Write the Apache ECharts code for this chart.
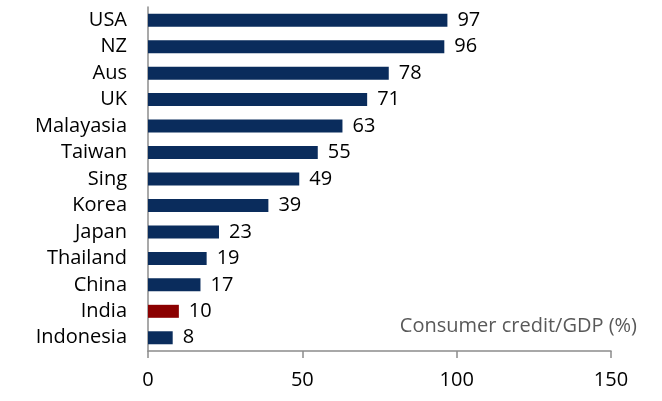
<!DOCTYPE html>
<html>
<head>
<meta charset="utf-8">
<script src="https://cdn.jsdelivr.net/npm/echarts@6/dist/echarts.min.js"></script>
<style>
  html, body { margin: 0; padding: 0; background: #ffffff; }
  #chart { width: 662px; height: 401px; }
</style>
</head>
<body>
<div id="chart"></div>
<script>
// Consumer credit as a share of GDP, by economy (top to bottom)
const countries = ['USA', 'NZ', 'Aus', 'UK', 'Malayasia', 'Taiwan', 'Sing', 'Korea', 'Japan', 'Thailand', 'China', 'India', 'Indonesia'];
const creditToGdp = [97, 96, 78, 71, 63, 55, 49, 39, 23, 19, 17, 10, 8];
const highlighted = ['India'];
const xTicks = [0, 50, 100, 150];

const navy = '#0a2c5c';
const red = '#8b0000';
const font = '"Open Sans", sans-serif';

const chart = echarts.init(document.getElementById('chart'));
chart.setOption({
  animation: false,
  backgroundColor: '#ffffff',
  grid: { left: 148, right: 51, top: 7, bottom: 50, containLabel: false },
  xAxis: {
    type: 'value',
    min: xTicks[0],
    max: xTicks[xTicks.length - 1],
    interval: 50,
    axisLine: { show: true, lineStyle: { color: '#8c8c8c', width: 1.5 } },
    axisTick: { show: true, length: 7, lineStyle: { color: '#8c8c8c', width: 1.5 } },
    splitLine: { show: false },
    axisLabel: { color: '#000', fontSize: 20, fontFamily: font, margin: 19 }
  },
  yAxis: {
    type: 'category',
    data: countries,
    inverse: true,
    axisLine: { show: true, lineStyle: { color: '#8c8c8c', width: 1.5 } },
    axisTick: { show: false },
    axisLabel: { color: '#000', fontSize: 20, fontFamily: font, margin: 21 }
  },
  series: [{
    type: 'bar',
    barWidth: 13,
    data: creditToGdp.map((v, i) => ({
      value: v,
      itemStyle: { color: highlighted.includes(countries[i]) ? red : navy }
    })),
    label: {
      show: true,
      position: 'right',
      distance: 10,
      color: '#000',
      fontSize: 20,
      fontFamily: font
    }
  }],
  graphic: [{
    type: 'text',
    right: 25,
    top: 316,
    style: {
      text: 'Consumer credit/GDP (%)',
      fill: '#595959',
      fontSize: 20,
      fontFamily: font
    }
  }]
});
</script>
</body>
</html>
